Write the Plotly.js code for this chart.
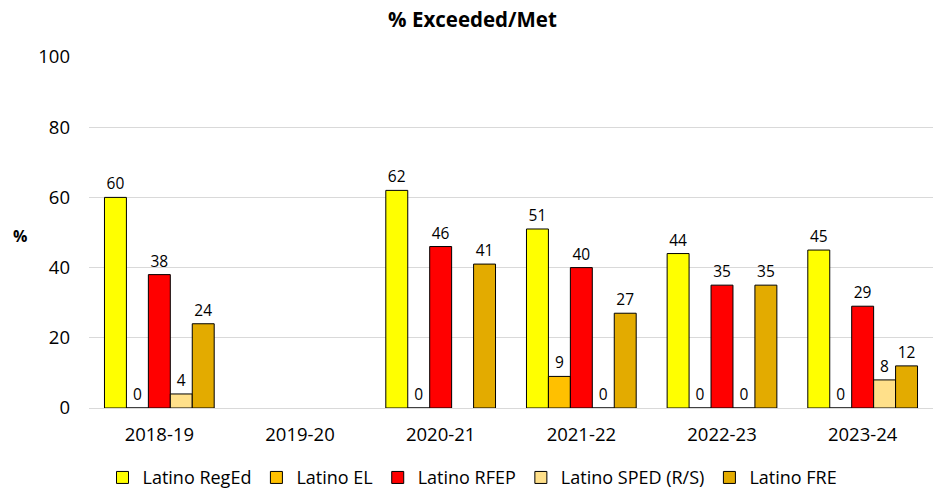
<!DOCTYPE html>
<html>
<head>
<meta charset="utf-8">
<script src="https://cdn.plot.ly/plotly-3.0.1.min.js"></script>
<style>html,body{margin:0;padding:0;background:#fff;}#chart{width:945px;height:491px;}</style>
</head>
<body>
<div id="chart"></div>
<script>
var years = ["2018-19", "2019-20", "2020-21", "2021-22", "2022-23", "2023-24"];
var seriesNames = ["Latino RegEd", "Latino EL", "Latino RFEP", "Latino SPED (R/S)", "Latino FRE"];
var regEd = [60, null, 62, 51, 44, 45];
var el = [0, null, 0, 9, 0, 0];
var rfep = [38, null, 46, 40, 35, 29];
var sped = [4, null, null, 0, 0, 8];
var fre = [24, null, 41, 27, 35, 12];
var colors = ["#FFFF00", "#FFC000", "#FF0000", "#FFE08A", "#E3AB00"];
var yTicks = [0, 20, 40, 60, 80, 100];

var allVals = [regEd, el, rfep, sped, fre];
var font = "'Open Sans', 'Noto Sans', sans-serif";
var traces = allVals.map(function (vals, i) {
  return {
    type: "bar",
    name: seriesNames[i],
    x: years,
    y: vals,
    marker: {color: colors[i], line: {color: "#000000", width: 1}},
    text: vals.map(function (v) { return v === null ? "" : String(v); }),
    textposition: "outside",
    cliponaxis: false,
    textfont: {family: font, size: 15.5, color: "#000000"},
    hoverinfo: "x+y+name"
  };
});

var layout = {
  width: 945,
  height: 491,
  margin: {l: 89, r: 12, t: 57, b: 83},
  paper_bgcolor: "#ffffff",
  plot_bgcolor: "#ffffff",
  barmode: "group",
  bargap: 0.22,
  bargroupgap: 0,
  title: {text: "<b>% Exceeded/Met</b>", x: 0.5, xanchor: "center", y: 0.975, yanchor: "top",
          font: {family: font, size: 20.5, color: "#000000"}},
  xaxis: {
    type: "category",
    tickfont: {family: font, size: 18.5, color: "#000000"},
    showline: true, linecolor: "#d9d9d9", linewidth: 1,
    ticks: "", showgrid: false,
    ticklabelstandoff: 10
  },
  yaxis: {
    range: [0, 100],
    tickvals: yTicks,
    tickfont: {family: font, size: 18.5, color: "#000000"},
    showgrid: true, gridcolor: "#d9d9d9", gridwidth: 1,
    zeroline: false, showline: false, ticks: "",
    ticklabelstandoff: 18
  },
  annotations: [{
    text: "<b>%</b>", xref: "paper", yref: "paper", x: -0.082, y: 0.49,
    xanchor: "center", yanchor: "middle", showarrow: false,
    font: {family: font, size: 16, color: "#000000"}
  }],
  showlegend: true,
  legend: {
    orientation: "h", x: 0.5, xanchor: "center", xref: "container",
    y: 0.027, yanchor: "middle", yref: "container",
    font: {family: font, size: 18, color: "#000000"},
    traceorder: "normal", itemclick: false, itemwidth: 30
  }
};

Plotly.newPlot("chart", traces, layout, {displayModeBar: false, staticPlot: true});
</script>
</body>
</html>
